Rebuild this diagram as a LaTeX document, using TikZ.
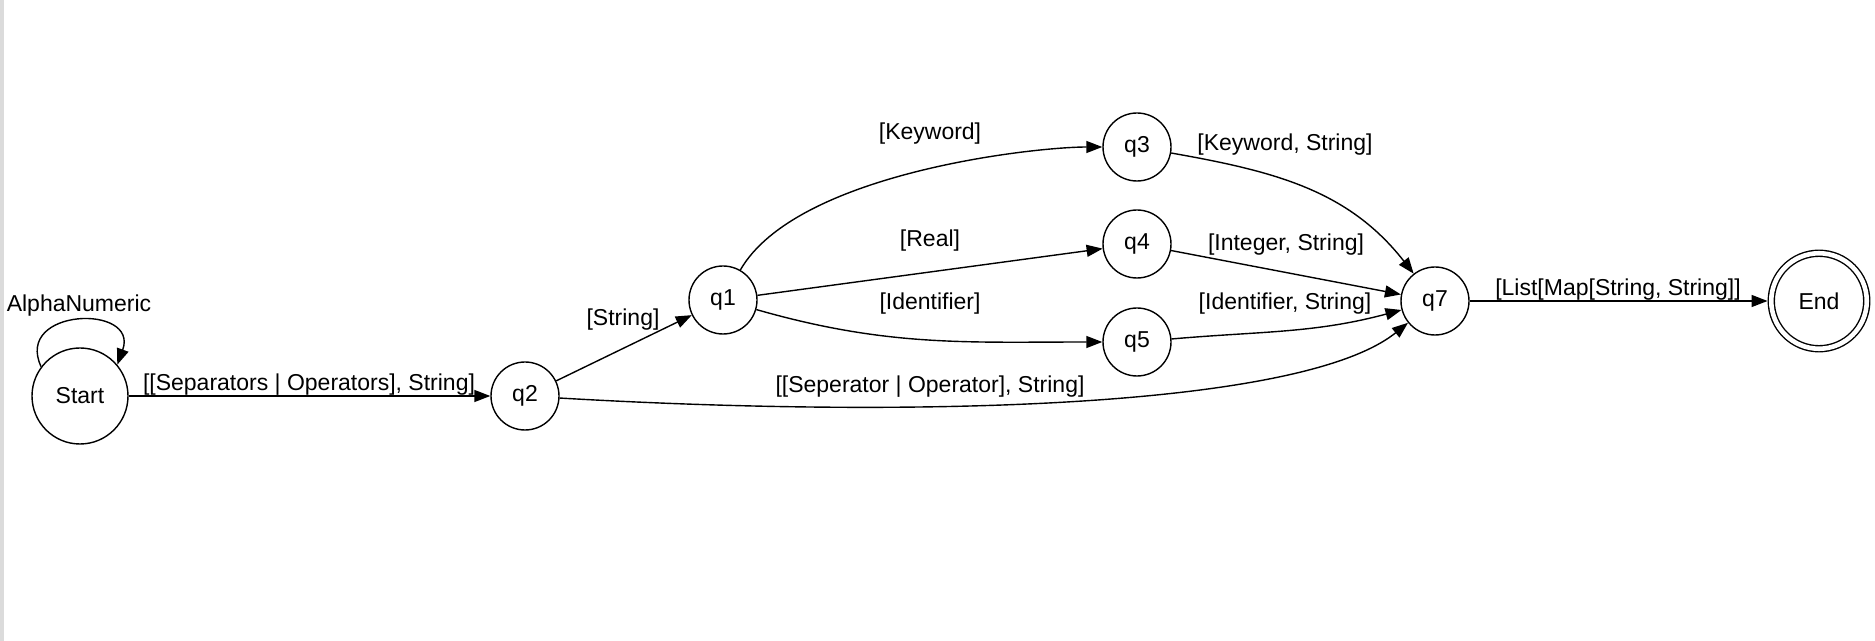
\documentclass[tikz,border=0pt]{standalone}
\usepackage{fontspec}
\setmainfont{Liberation Sans}
\usetikzlibrary{arrows.meta}

\begin{document}
\begin{tikzpicture}[x=0.5pt,y=0.5pt,line width=0.7pt,font=\fontsize{11.5}{14}\selectfont]
	\tikzstyle{state} = [circle,fill=white,draw=black,minimum size=34pt,inner sep=0pt]
	\tikzstyle{trans} = [-{Triangle[length=8pt,width=6pt]}]
	\tikzstyle{lbl} = [anchor=base,inner sep=0pt]
	\useasboundingbox (0,0) rectangle (1875,-641);
	\fill[black!14] (0,0) rectangle (3.5,-641);
	\node[state,minimum size=48pt] (start) at (80,-396) {Start};
	\node[state] (q2) at (525,-396) {q2};
	\node[state] (q1) at (723,-300) {q1};
	\node[state] (q3) at (1137,-147) {q3};
	\node[state] (q4) at (1137,-244) {q4};
	\node[state] (q5) at (1137,-342) {q5};
	\node[state] (q7) at (1435,-301) {q7};
	\node[state,double,double distance=2.3pt,minimum size=47.75pt,outer sep=1.85pt] (final) at (1819,-301) {End};
	\draw[trans] (start.143) .. controls +(115:65) and +(70:65) .. (start.40);
	\draw[trans] (start)--(q2);
	\draw[trans] (q2)--(q1);
	\draw[trans] (q1) to[out=60,in=180,out looseness=0.75,in looseness=0.46] (q3);
	\draw[trans] (q1)--(q4);
	\draw[trans] (q1) to[out=-16,in=180] (q5);
	\draw[trans] (q3) to[out=-10,in=128] (q7);
	\draw[trans] (q4)--(q7);
	\draw[trans] (q5) to[out=5,in=195] (q7);
	\draw[trans] (q2) .. controls (900,-418) and (1300,-410) .. (q7);
	\draw[trans] (q7)--(final);
	\node[lbl] (lalpha) at (79,-312) {AlphaNumeric};
	\node[lbl] (lsep) at (309,-391) {[[Separators | Operators], String]};
	\node[lbl] (lstr) at (623,-326) {[String]};
	\node[lbl] (lkey) at (930,-140) {[Keyword]};
	\node[lbl] (lreal) at (930,-247) {[Real]};
	\node[lbl] (lid) at (930,-310) {[Identifier]};
	\node[lbl] (lkeystr) at (1285,-151) {[Keyword, String]};
	\node[lbl] (lintstr) at (1286,-251) {[Integer, String]};
	\node[lbl] (lidstr) at (1285,-310) {[Identifier, String]};
	\node[lbl] (lsepop) at (930,-393) {[[Seperator | Operator], String]};
	\node[lbl] (llist) at (1618,-296) {[List[Map[String, String]]};
\end{tikzpicture}
\end{document}
